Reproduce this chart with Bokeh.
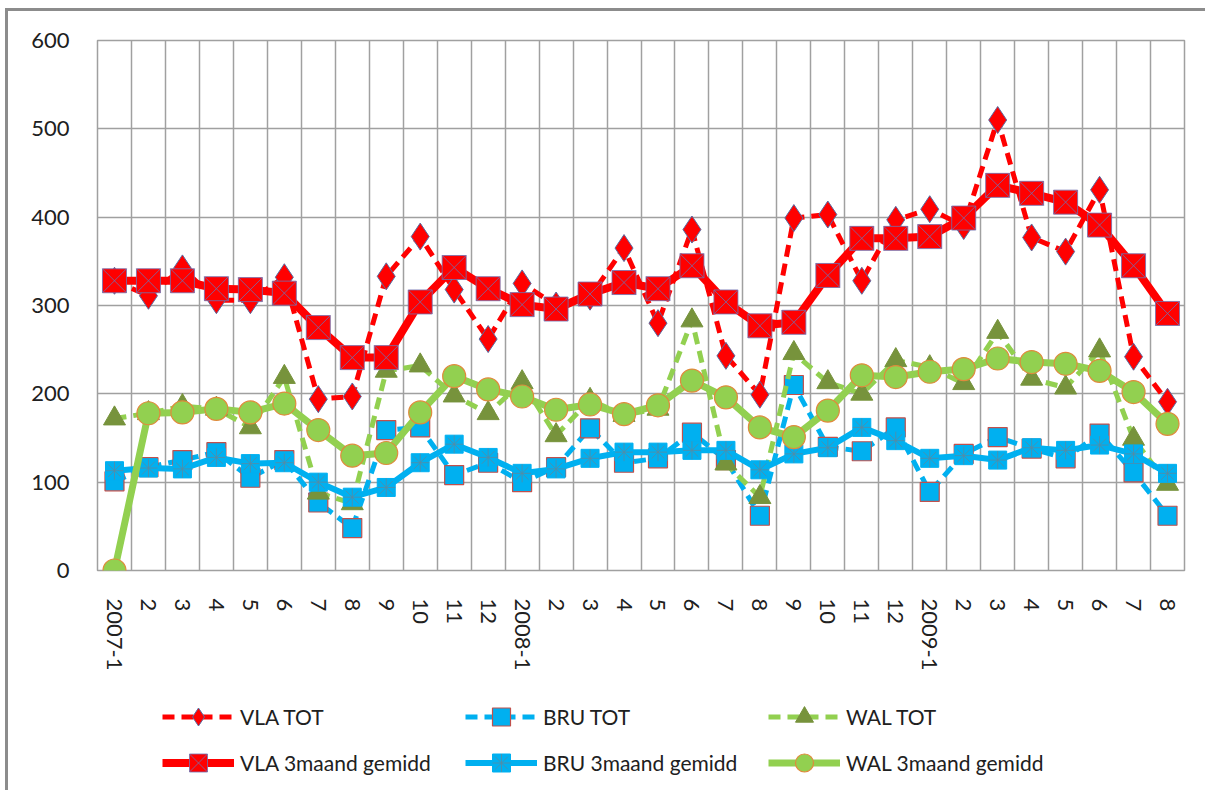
from bokeh.plotting import figure
from bokeh.layouts import column
from bokeh.models import (Range1d, FixedTicker, Legend, LegendItem, ColumnDataSource)
from bokeh.embed import file_html
from bokeh.resources import INLINE

# ---- data ----
categories = ["2007-1", "2", "3", "4", "5", "6", "7", "8", "9", "10", "11", "12",
              "2008-1", "2", "3", "4", "5", "6", "7", "8", "9", "10", "11", "12",
              "2009-1", "2", "3", "4", "5", "6", "7", "8"]

vla_tot = [328, 311, 342, 306, 306, 332, 194, 197, 333, 378, 318, 262,
           325, 300, 310, 365, 280, 386, 243, 199, 399, 403, 328, 397,
           409, 390, 510, 377, 361, 431, 242, 191]
bru_tot = [101, 117, 125, 134, 105, 125, 77, 48, 159, 162, 108, 122,
           100, 117, 161, 122, 127, 156, 125, 62, 210, 140, 135, 162,
           89, 132, 151, 138, 127, 155, 111, 62]
wal_tot = [172, 178, 186, 183, 162, 219, 88, 76, 226, 232, 198, 178,
           213, 153, 193, 176, 183, 283, 121, 83, 246, 213, 200, 238,
           230, 212, 270, 217, 207, 249, 149, 98]
vla_3m = [328, 328, 328, 319, 318, 314, 275, 241, 241, 304, 343, 319,
          301, 296, 313, 326, 319, 345, 304, 277, 281, 334, 376, 376,
          378, 399, 436, 427, 417, 391, 345, 291]
bru_3m = [113, 116, 115, 128, 121, 122, 100, 83, 94, 122, 143, 128,
          110, 115, 127, 134, 134, 136, 136, 114, 132, 139, 162, 147,
          127, 130, 125, 139, 136, 142, 132, 110]
wal_3m = [0, 178, 179, 183, 179, 189, 159, 130, 133, 179, 220, 205,
          197, 182, 188, 177, 187, 215, 196, 162, 151, 181, 221, 219,
          225, 228, 240, 236, 234, 226, 202, 166]
y_ticks = [0, 100, 200, 300, 400, 500, 600]
series_labels = ["VLA TOT", "BRU TOT", "WAL TOT",
                 "VLA 3maand gemidd", "BRU 3maand gemidd", "WAL 3maand gemidd"]

x = list(range(1, len(categories) + 1))
src = ColumnDataSource(dict(x=x, vla_tot=vla_tot, bru_tot=bru_tot, wal_tot=wal_tot,
                            vla_3m=vla_3m, bru_3m=bru_3m, wal_3m=wal_3m))

RED = "#ff0000"
BLUE = "#00b0f0"
GREEN = "#92d050"
OLIVE = "#77933c"
FONT = "Lato"
FRAME_GRAY = "#8c8c8c"

W = 1200

p = figure(width=W, height=679, output_backend="svg", toolbar_location=None,
           x_range=Range1d(0.5, len(categories) + 0.5),
           y_range=Range1d(y_ticks[0], y_ticks[-1]),
           min_border_left=89, min_border_right=24, min_border_top=29,
           min_border_bottom=120)
p.styles = {"border-left": "3px solid " + FRAME_GRAY, "border-top": "3px solid " + FRAME_GRAY,
            "margin-left": "5px", "margin-top": "8px"}

p.background_fill_color = "white"
p.border_fill_color = "white"
p.outline_line_color = "#a0a0a0"
p.outline_line_width = 1.5

# grid
p.ygrid.ticker = FixedTicker(ticks=y_ticks)
p.xgrid.ticker = FixedTicker(ticks=[i + 0.5 for i in range(len(categories) + 1)])
for g in (p.xgrid, p.ygrid):
    g.grid_line_color = "#a0a0a0"
    g.grid_line_width = 1.5

# axes
p.yaxis.ticker = FixedTicker(ticks=y_ticks)
p.xaxis.ticker = FixedTicker(ticks=x)
p.xaxis.major_label_overrides = {i: c for i, c in zip(x, categories)}
p.xaxis.major_label_orientation = "vertical"
for ax in (p.xaxis, p.yaxis):
    ax.axis_line_color = None
    ax.major_tick_line_color = None
    ax.minor_tick_line_color = None
    ax.major_label_text_font = FONT
    ax.major_label_text_font_size = "22px"
    ax.major_label_text_color = "#202020"
p.yaxis.major_label_standoff = 22
p.xaxis.major_label_standoff = 22


def draw(fig):
    r = []
    r.append([fig.line("x", "vla_tot", source=src, line_color=RED, line_width=5, line_dash="12 7"),
              fig.scatter("x", "vla_tot", source=src, marker="diamond", size=27,
                          fill_color=RED, line_color="#5a6aa0", line_width=1)])
    r.append([fig.line("x", "bru_tot", source=src, line_color=BLUE, line_width=5, line_dash="12 7"),
              fig.scatter("x", "bru_tot", source=src, marker="square", size=19,
                          fill_color=BLUE, line_color="#c0504d", line_width=1.2)])
    r.append([fig.line("x", "wal_tot", source=src, line_color=GREEN, line_width=5, line_dash="12 7"),
              fig.scatter("x", "wal_tot", source=src, marker="triangle", size=22,
                          fill_color=OLIVE, line_color=OLIVE, line_width=1)])
    r.append([fig.line("x", "vla_3m", source=src, line_color=RED, line_width=8),
              fig.scatter("x", "vla_3m", source=src, marker="square_x", size=24,
                          fill_color=RED, line_color="#7070b0", line_width=1, line_alpha=0.8)])
    r.append([fig.line("x", "bru_3m", source=src, line_color=BLUE, line_width=6),
              fig.scatter("x", "bru_3m", source=src, marker="square", size=18,
                          fill_color=BLUE, line_color=BLUE, line_width=1),
              fig.scatter("x", "bru_3m", source=src, marker="asterisk", size=18,
                          line_color="#5a8aa0", line_width=1, line_alpha=0.8)])
    r.append([fig.line("x", "wal_3m", source=src, line_color=GREEN, line_width=7),
              fig.scatter("x", "wal_3m", source=src, marker="circle", size=23,
                          fill_color=GREEN, line_color="#e08a3c", line_width=1.2)])
    return r


draw(p)

# legend strip below the chart (same glyph styles; its ranges show no data)
q = figure(width=W, height=103, output_backend="svg", toolbar_location=None,
           x_axis_location=None, y_axis_location=None,
           x_range=Range1d(-1000, -999), y_range=Range1d(-1000, -999),
           min_border_left=0, min_border_right=0, min_border_top=0, min_border_bottom=0)
q.styles = {"border-left": "3px solid " + FRAME_GRAY, "margin-left": "5px"}
q.grid.visible = False
q.outline_line_color = None
q.background_fill_color = "white"
q.border_fill_color = "white"
leg_r = draw(q)

legend = Legend(items=[LegendItem(label=lab, renderers=rr) for lab, rr in zip(series_labels, leg_r)],
                location=(65, 5), orientation="horizontal", ncols=3,
                glyph_width=72, glyph_height=45, label_standoff=6, label_width=224,
                spacing=1, padding=0, margin=0, border_line_color=None,
                background_fill_alpha=0, label_text_font=FONT,
                label_text_font_size="21px", label_text_color="#202020")
q.add_layout(legend, "center")

layout = column(p, q, spacing=0)
open("out.html", "w").write(file_html(layout, INLINE))
